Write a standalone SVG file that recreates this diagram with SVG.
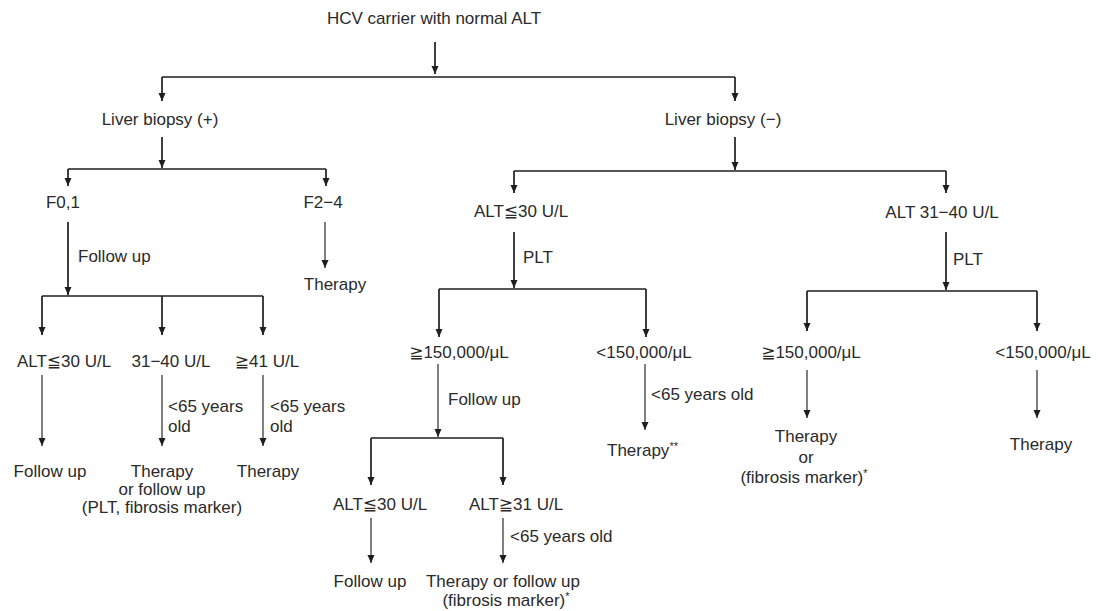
<svg xmlns="http://www.w3.org/2000/svg" width="1098" height="611" viewBox="0 0 1098 611">
<defs>
<marker id="ah" markerUnits="userSpaceOnUse" markerWidth="8" markerHeight="8" refX="8" refY="4" orient="auto">
<path d="M0,0.5 L8,4 L0,7.5 z" fill="#1e1e1e"/>
</marker>
<style>
text{font-family:"Liberation Sans","DejaVu Sans",Arial,sans-serif;font-size:17px;fill:#2a2a2a}
.m{text-anchor:middle}
.b{fill:none;stroke:#1e1e1e;stroke-width:1.7}
.a{fill:none;stroke:#1e1e1e;stroke-width:1.7;marker-end:url(#ah)}
.t{fill:none;stroke:#2a2a2a;stroke-width:1.2;marker-end:url(#ah)}
.s{font-size:11px}
</style>
</defs>
<rect width="1098" height="611" fill="#fff"/>
<g id="connectors">
<line class="a" x1="435" y1="42" x2="435" y2="74"/>
<path class="b" d="M162,77 H735"/>
<line class="a" x1="162" y1="77" x2="162" y2="101"/>
<line class="a" x1="735" y1="77" x2="735" y2="101"/>
<line class="a" x1="162" y1="137" x2="162" y2="168"/>
<path class="b" d="M68,169 H326"/>
<line class="a" x1="68" y1="169" x2="68" y2="186"/>
<line class="a" x1="326" y1="169" x2="326" y2="186"/>
<line class="a" x1="735" y1="137" x2="735" y2="170"/>
<path class="b" d="M514,171 H946"/>
<line class="a" x1="514" y1="171" x2="514" y2="193"/>
<line class="a" x1="946" y1="171" x2="946" y2="193"/>
<line class="a" x1="68" y1="222" x2="68" y2="295"/>
<path class="b" d="M42,296 H263"/>
<line class="a" x1="42" y1="296" x2="42" y2="335"/>
<line class="a" x1="162" y1="296" x2="162" y2="335"/>
<line class="a" x1="263" y1="296" x2="263" y2="335"/>
<line class="t" x1="325" y1="222" x2="325" y2="268"/>
<line class="a" x1="514" y1="232" x2="514" y2="288"/>
<path class="b" d="M439,289 H646"/>
<line class="a" x1="439" y1="289" x2="439" y2="337"/>
<line class="a" x1="646" y1="289" x2="646" y2="337"/>
<line class="a" x1="946" y1="232" x2="946" y2="290"/>
<path class="b" d="M807,291 H1037"/>
<line class="a" x1="807" y1="291" x2="807" y2="331"/>
<line class="a" x1="1037" y1="291" x2="1037" y2="331"/>
<line class="t" x1="42" y1="375" x2="42" y2="446"/>
<line class="t" x1="162" y1="375" x2="162" y2="446"/>
<line class="t" x1="263" y1="375" x2="263" y2="446"/>
<line class="t" x1="438" y1="364" x2="438" y2="437"/>
<path class="b" d="M371,438 H503"/>
<line class="a" x1="371" y1="438" x2="371" y2="485"/>
<line class="a" x1="503" y1="438" x2="503" y2="485"/>
<line class="t" x1="645" y1="364" x2="645" y2="430"/>
<line class="t" x1="807" y1="370" x2="807" y2="418"/>
<line class="t" x1="1037" y1="370" x2="1037" y2="418"/>
<line class="t" x1="371" y1="518" x2="371" y2="563"/>
<line class="t" x1="503" y1="518" x2="503" y2="563"/>
</g>
<g id="labels">
<text x="78" y="262">Follow up</text>
<text x="523" y="263">PLT</text>
<text x="953" y="265">PLT</text>
<text x="168" y="412">&lt;65 years</text>
<text x="168" y="432">old</text>
<text x="270" y="412">&lt;65 years</text>
<text x="270" y="432">old</text>
<text x="448" y="405">Follow up</text>
<text x="651" y="400">&lt;65 years old</text>
<text x="510" y="542">&lt;65 years old</text>
</g>
<g id="n-root"><text class="m" x="434" y="24">HCV carrier with normal ALT</text></g>
<g id="n-biopsy-pos"><text class="m" x="160" y="125">Liver biopsy (+)</text></g>
<g id="n-biopsy-neg"><text class="m" x="723" y="125">Liver biopsy (−)</text></g>
<g id="n-f01"><text class="m" x="63" y="208">F0,1</text></g>
<g id="n-f24"><text class="m" x="323" y="208">F2−4</text></g>
<g id="n-therapy-f24"><text class="m" x="335" y="290">Therapy</text></g>
<g id="n-alt30"><text class="m" x="521" y="217">ALT≦30 U/L</text></g>
<g id="n-alt3140"><text class="m" x="942" y="218">ALT 31−40 U/L</text></g>
<g id="n-l-alt30"><text class="m" x="64" y="367">ALT≦30 U/L</text></g>
<g id="n-l-3140"><text class="m" x="171" y="367">31−40 U/L</text></g>
<g id="n-l-41"><text class="m" x="267" y="367">≧41 U/L</text></g>
<g id="n-l-fu"><text class="m" x="50" y="477">Follow up</text></g>
<g id="n-l-tfu"><text class="m" x="162" y="477">Therapy</text><text class="m" x="162" y="495">or follow up</text><text class="m" x="162" y="513">(PLT, fibrosis marker)</text></g>
<g id="n-l-th"><text class="m" x="268" y="477">Therapy</text></g>
<g id="n-m-ge150"><text class="m" x="459" y="358">≧150,000/μL</text></g>
<g id="n-m-lt150"><text class="m" x="644" y="358">&lt;150,000/μL</text></g>
<g id="n-m-th2"><text x="607" y="456">Therapy<tspan class="s" dy="-6">**</tspan></text></g>
<g id="n-m-alt30"><text class="m" x="380" y="510">ALT≦30 U/L</text></g>
<g id="n-m-alt31"><text class="m" x="516" y="510">ALT≧31 U/L</text></g>
<g id="n-m-fu"><text class="m" x="370" y="587">Follow up</text></g>
<g id="n-m-tfu"><text class="m" x="503" y="587">Therapy or follow up</text><text class="m" x="506" y="606">(fibrosis marker)<tspan class="s" dy="-6">*</tspan></text></g>
<g id="n-r-ge150"><text class="m" x="811" y="358">≧150,000/μL</text></g>
<g id="n-r-lt150"><text class="m" x="1043" y="358">&lt;150,000/μL</text></g>
<g id="n-r-tf"><text class="m" x="806" y="442">Therapy</text><text class="m" x="806" y="463">or</text><text class="m" x="804" y="483">(fibrosis marker)<tspan class="s" dy="-6">*</tspan></text></g>
<g id="n-r-th"><text class="m" x="1041" y="450">Therapy</text></g>
</svg>
